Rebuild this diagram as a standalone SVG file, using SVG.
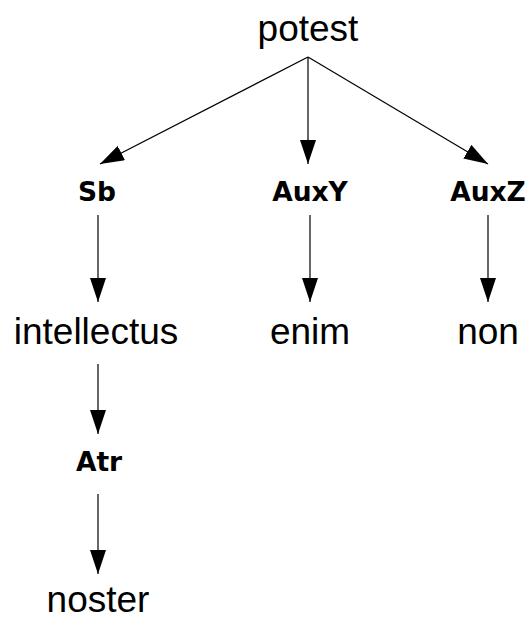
<svg xmlns="http://www.w3.org/2000/svg" width="531" height="621" viewBox="0 0 531 621">
  <style>
    .word { font-family: "Liberation Sans", Arial, sans-serif; font-size: 37px; fill: #000; text-anchor: middle; }
    .func { font-family: "DejaVu Sans", "Liberation Sans", sans-serif; font-weight: bold; font-size: 26.5px; fill: #000; text-anchor: middle; }
    .edge { stroke: #000; stroke-width: 1.2; fill: none; marker-end: url(#head); }
  </style>
  <defs>
    <!-- filled triangular arrowhead, 24 long by 16 wide -->
    <marker id="head" markerWidth="24" markerHeight="16" refX="24" refY="8" viewBox="0 0 24 16" markerUnits="userSpaceOnUse" orient="auto">
      <path d="M0,0 L24,8 L0,16 Z" fill="#000"/>
    </marker>
  </defs>
  <rect width="531" height="621" fill="#fff"/>

  <g id="edges">
    <line class="edge" x1="308" y1="57" x2="100" y2="164"/>
    <line class="edge" x1="308" y1="57" x2="308" y2="164"/>
    <line class="edge" x1="308" y1="57" x2="488" y2="164"/>
    <line class="edge" x1="98" y1="215" x2="98" y2="302"/>
    <line class="edge" x1="310" y1="215" x2="310" y2="302"/>
    <line class="edge" x1="488" y1="215" x2="488" y2="302"/>
    <line class="edge" x1="98" y1="364" x2="98" y2="434"/>
    <line class="edge" x1="98" y1="494" x2="98" y2="574"/>
  </g>

  <g id="potest"><text class="word" x="308" y="41">potest</text></g>
  <g id="sb"><text class="func" x="97" y="201">Sb</text></g>
  <g id="auxy"><text class="func" x="310" y="201">AuxY</text></g>
  <g id="auxz"><text class="func" x="488" y="201">AuxZ</text></g>
  <g id="intellectus"><text class="word" x="96" y="344">intellectus</text></g>
  <g id="enim"><text class="word" x="310" y="344">enim</text></g>
  <g id="non"><text class="word" x="488" y="344">non</text></g>
  <g id="atr"><text class="func" x="99" y="471">Atr</text></g>
  <g id="noster"><text class="word" x="98" y="612">noster</text></g>
</svg>
